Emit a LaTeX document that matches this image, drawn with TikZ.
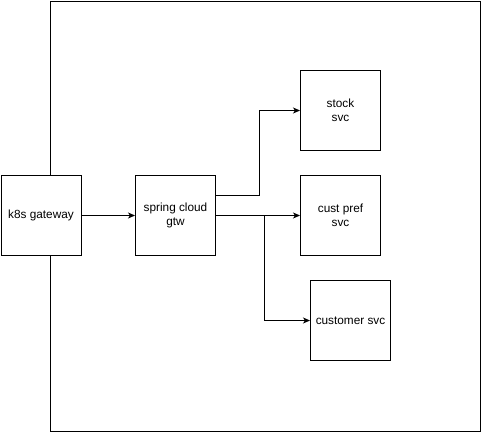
\documentclass[tikz,border=0pt]{standalone}
\usepackage{fontspec}
\setmainfont{Liberation Sans}
\usetikzlibrary{arrows.meta,calc}
\begin{document}
\begin{tikzpicture}[x=1pt,y=-1pt,
  box/.style={draw=black,fill=white,line width=1pt,minimum width=80pt,minimum height=80pt,inner sep=0pt,align=center,font=\fontsize{11.8}{14}\selectfont,anchor=north west},
  conn/.style={draw=black,line width=1pt,-{Stealth[length=7pt,width=6pt,inset=2pt]}}]
\useasboundingbox (0,0) rectangle (481,431);
\node[draw=black,line width=1pt,minimum width=430pt,minimum height=430pt,inner sep=0pt,anchor=north west] (frame) at (50,0.5) {};
\node[box] (k8s) at (0.5,175) {k8s gateway};
\node[box] (spring) at (135,175) {spring cloud\\gtw};
\node[box] (stock) at (300,70) {stock\\svc};
\node[box] (pref) at (300,175) {cust pref\\svc};
\node[box] (cust) at (310,280) {customer svc};
\coordinate (s1) at ($(spring.east)+(0,-20)$);
\draw[conn] (k8s) -- (spring);
\draw[conn] (s1) -- ++(43,0) |- (stock.west);
\draw[conn] (spring) -- (pref);
\draw[conn] (spring.east) -- ++(48,0) |- (cust.west);
\end{tikzpicture}
\end{document}
